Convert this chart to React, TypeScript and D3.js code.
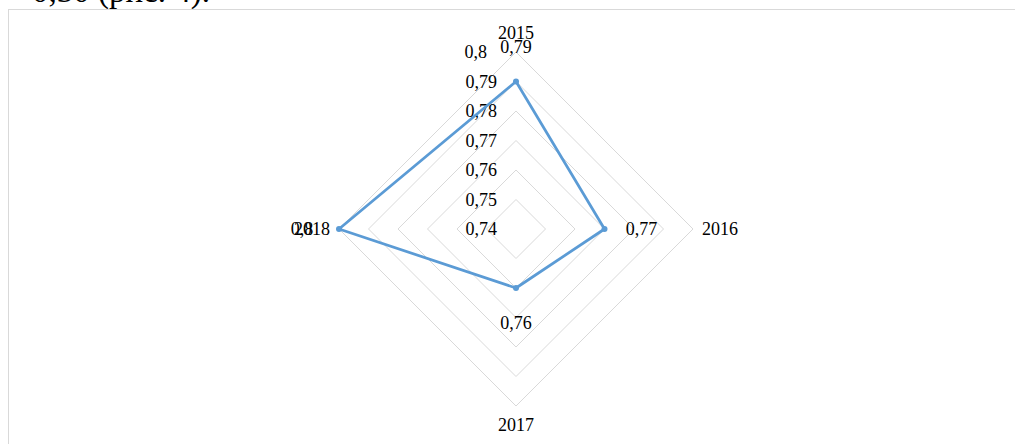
import React from 'react';
import * as d3 from 'd3';

// chart values
const years = ['2015', '2016', '2017', '2018'];
const values = [0.79, 0.77, 0.76, 0.8];
const valueLabels = ['0,79', '0,77', '0,76', '0,8'];
const ticks = [0.74, 0.75, 0.76, 0.77, 0.78, 0.79, 0.8];
const tickLabels = ['0,74', '0,75', '0,76', '0,77', '0,78', '0,79', '0,8'];

const W = 1015;
const H = 444;
const cx = 516;
const cy = 229;
const R = 177;
const FONT = '"Liberation Serif", "Times New Roman", serif';

export default function App() {
  const r = d3.scaleLinear().domain([0.74, 0.8]).range([0, R]);
  // angle per category, 0 = up, clockwise
  const a = (i: number) => (i * 2 * Math.PI) / years.length;

  const radial = d3
    .lineRadial<number>()
    .angle((d, i) => a(i))
    .radius(d => r(d))
    .curve(d3.curveLinearClosed);

  const px = (i: number, rad: number) => Math.sin(a(i)) * rad;
  const py = (i: number, rad: number) => -Math.cos(a(i)) * rad;

  return (
    <svg
      width={W}
      height={H}
      style={{position: 'fixed', left: 0, top: 0, background: '#fff'}}
      fontFamily={FONT}
    >
      {/* cut-off line of the surrounding document text */}
      <text x={210} y={1.5} fontSize={33} textAnchor="end" fill="#000">
        0,30 (рис. 4).
      </text>

      {/* chart frame */}
      <rect x={8.5} y={9.5} width={1030} height={460} fill="#fff" stroke="#d9d9d9" strokeWidth={1} />

      <g transform={`translate(${cx},${cy})`}>
        {ticks.slice(1).map(t => (
          <path
            key={t}
            d={radial(years.map(() => t)) || ''}
            fill="none"
            stroke="#d9d9d9"
            strokeWidth={1}
          />
        ))}

        {/* value axis labels */}
        {ticks.map((t, i) => (
          <text
            key={'t' + t}
            x={i === ticks.length - 1 ? -29 : -19}
            y={-r(t)}
            dy="0.35em"
            textAnchor="end"
            fontSize={18}
            fill="#000"
          >
            {tickLabels[i]}
          </text>
        ))}

        <path
          d={radial(values) || ''}
          fill="none"
          stroke="#5b9bd5"
          strokeWidth={2.75}
          strokeLinejoin="round"
        />
        {values.map((v, i) => (
          <circle key={'p' + i} cx={px(i, r(v))} cy={py(i, r(v))} r={3} fill="#5b9bd5" />
        ))}

        {/* data labels */}
        {values.map((v, i) => (
          <text
            key={'d' + i}
            x={px(i, r(v) + 37)}
            y={py(i, r(v) + 35)}
            dy="0.35em"
            textAnchor="middle"
            fontSize={18}
            fill="#000"
          >
            {valueLabels[i]}
          </text>
        ))}

        {/* category labels */}
        {years.map((y, i) => {
          const side = Math.abs(Math.sin(a(i))) > 0.5;
          const off = side ? R + 9 : R + 19;
          return (
            <text
              key={y}
              x={px(i, off)}
              y={py(i, off)}
              dy="0.35em"
              textAnchor={side ? (Math.sin(a(i)) > 0 ? 'start' : 'end') : 'middle'}
              fontSize={18}
              fill="#000"
            >
              {y}
            </text>
          );
        })}
      </g>
    </svg>
  );
}
